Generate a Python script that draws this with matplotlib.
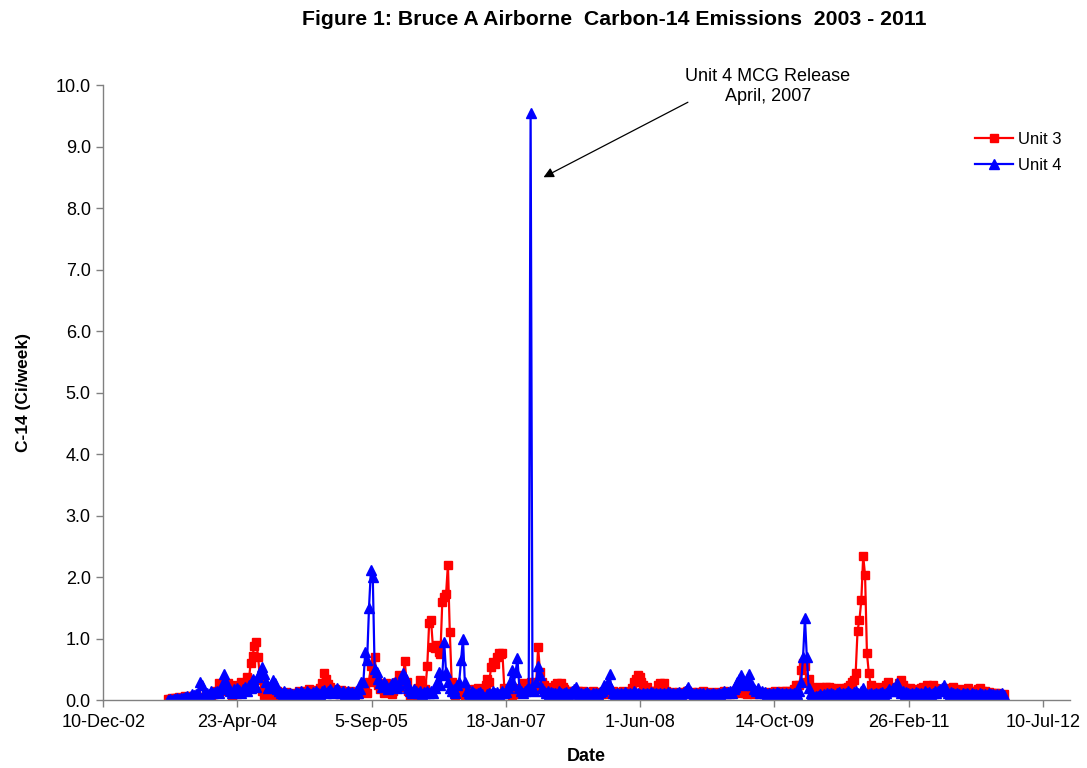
import matplotlib
matplotlib.use("Agg")
import matplotlib.pyplot as plt
import pandas as pd
import numpy as np

plt.rcParams['font.family'] = ['Liberation Sans', 'DejaVu Sans']

# ---------------- data ----------------
start_date = "2003-08-08"   # first weekly sample

unit3 = [
    0.02, 0.01, 0.03, 0.02, 0.04, 0.03, 0.05, 0.02, 0.04, 0.06,
    0.05, 0.03, 0.07, 0.04, 0.06, 0.08, 0.05, 0.02, 0.01, 0.02,
    0.01, 0.03, 0.02, 0.04, 0.10, 0.15, 0.12, 0.27, 0.22, 0.18,
    0.14, 0.20, 0.28, 0.16, 0.05, 0.25, 0.18, 0.10, 0.22, 0.30,
    0.18, 0.25, 0.38, 0.30, 0.60, 0.72, 0.88, 0.95, 0.70, 0.32,
    0.15, 0.08, 0.10, 0.05, 0.12, 0.08, 0.06, 0.10, 0.14, 0.09,
    0.07, 0.11, 0.08, 0.13, 0.10, 0.06, 0.09, 0.12, 0.08, 0.10,
    0.15, 0.12, 0.09, 0.14, 0.11, 0.18, 0.13, 0.10, 0.16, 0.12,
    0.14, 0.20, 0.28, 0.44, 0.35, 0.26, 0.22, 0.15, 0.12, 0.18,
    0.14, 0.10, 0.16, 0.12, 0.09, 0.13, 0.11, 0.15, 0.10, 0.08,
    0.12, 0.09, 0.14, 0.18, 0.25, 0.20, 0.12, 0.30, 0.55, 0.35,
    0.70, 0.30, 0.25, 0.18, 0.22, 0.12, 0.28, 0.15, 0.20, 0.10,
    0.14, 0.25, 0.30, 0.40, 0.22, 0.35, 0.63, 0.30, 0.15, 0.05,
    0.01, 0.03, 0.12, 0.20, 0.32, 0.25, 0.15, 0.18, 0.55, 1.25,
    1.30, 0.87, 0.85, 0.90, 0.78, 0.75, 1.60, 1.68, 1.72, 2.20,
    1.10, 0.30, 0.12, 0.08, 0.15, 0.10, 0.20, 0.12, 0.08, 0.14,
    0.10, 0.16, 0.12, 0.18, 0.14, 0.20, 0.15, 0.12, 0.18, 0.25,
    0.35, 0.30, 0.54, 0.62, 0.58, 0.70, 0.76, 0.75, 0.76, 0.20,
    0.15, 0.10, 0.12, 0.08, 0.10, 0.14, 0.12, 0.18, 0.20, 0.27,
    0.22, 0.18, 0.25, 0.30, 0.20, 0.15, 0.25, 0.86, 0.46, 0.30,
    0.25, 0.20, 0.22, 0.15, 0.18, 0.20, 0.24, 0.27, 0.25, 0.27,
    0.22, 0.18, 0.15, 0.12, 0.14, 0.10, 0.13, 0.11, 0.15, 0.12,
    0.10, 0.14, 0.12, 0.09, 0.13, 0.11, 0.15, 0.12, 0.10, 0.13,
    0.12, 0.10, 0.14, 0.11, 0.13, 0.12, 0.10, 0.14, 0.12, 0.11,
    0.13, 0.12, 0.15, 0.12, 0.10, 0.05, 0.00, 0.20, 0.30, 0.35,
    0.40, 0.38, 0.30, 0.25, 0.20, 0.22, 0.15, 0.12, 0.14, 0.12,
    0.15, 0.25, 0.28, 0.26, 0.28, 0.15, 0.12, 0.10, 0.13, 0.11,
    0.12, 0.10, 0.13, 0.11, 0.12, 0.10, 0.14, 0.12, 0.11, 0.13,
    0.12, 0.10, 0.13, 0.11, 0.12, 0.14, 0.10, 0.12, 0.11, 0.13,
    0.10, 0.12, 0.11, 0.13, 0.12, 0.10, 0.14, 0.11, 0.12, 0.10,
    0.13, 0.12, 0.15, 0.18, 0.12, 0.14, 0.16, 0.12, 0.10, 0.13,
    0.11, 0.12, 0.10, 0.14, 0.12, 0.11, 0.13, 0.10, 0.12, 0.11,
    0.13, 0.12, 0.10, 0.14, 0.12, 0.11, 0.13, 0.15, 0.12, 0.14,
    0.12, 0.15, 0.13, 0.18, 0.25, 0.22, 0.24, 0.49, 0.60, 0.55,
    0.30, 0.35, 0.20, 0.22, 0.18, 0.20, 0.17, 0.22, 0.20, 0.18,
    0.21, 0.18, 0.22, 0.19, 0.20, 0.17, 0.18, 0.16, 0.20, 0.18,
    0.18, 0.20, 0.22, 0.25, 0.30, 0.33, 0.44, 1.13, 1.30, 1.62,
    2.34, 2.03, 0.76, 0.44, 0.25, 0.20, 0.22, 0.18, 0.15, 0.20,
    0.22, 0.18, 0.25, 0.30, 0.22, 0.18, 0.20, 0.15, 0.22, 0.28,
    0.33, 0.25, 0.20, 0.18, 0.16, 0.20, 0.18, 0.15, 0.17, 0.14,
    0.18, 0.20, 0.22, 0.16, 0.25, 0.20, 0.18, 0.25, 0.20, 0.16,
    0.18, 0.15, 0.17, 0.14, 0.16, 0.20, 0.18, 0.15, 0.22, 0.17,
    0.15, 0.18, 0.14, 0.16, 0.13, 0.15, 0.20, 0.14, 0.12, 0.15,
    0.13, 0.18, 0.20, 0.15, 0.12, 0.14, 0.11, 0.13, 0.12, 0.10,
    0.12, 0.09, 0.11, 0.10, 0.08, 0.09,
]

unit4 = [
    0.00, 0.01, 0.00, 0.02, 0.01, 0.03, 0.02, 0.04, 0.03, 0.05,
    0.06, 0.04, 0.07, 0.09, 0.08, 0.10, 0.12, 0.30, 0.25, 0.08,
    0.10, 0.12, 0.09, 0.14, 0.11, 0.13, 0.15, 0.12, 0.18, 0.25,
    0.42, 0.30, 0.20, 0.15, 0.12, 0.18, 0.14, 0.20, 0.16, 0.12,
    0.18, 0.22, 0.15, 0.25, 0.20, 0.35, 0.28, 0.22, 0.38, 0.45,
    0.54, 0.42, 0.30, 0.20, 0.22, 0.25, 0.32, 0.28, 0.18, 0.15,
    0.12, 0.10, 0.14, 0.11, 0.09, 0.12, 0.10, 0.08, 0.13, 0.11,
    0.10, 0.14, 0.12, 0.09, 0.15, 0.12, 0.10, 0.13, 0.11, 0.14,
    0.12, 0.10, 0.14, 0.16, 0.12, 0.15, 0.18, 0.14, 0.12, 0.16,
    0.20, 0.15, 0.12, 0.14, 0.10, 0.12, 0.15, 0.11, 0.13, 0.10,
    0.14, 0.12, 0.18, 0.29, 0.30, 0.78, 0.65, 1.50, 2.11, 2.00,
    0.50, 0.45, 0.35, 0.28, 0.22, 0.30, 0.25, 0.18, 0.22, 0.28,
    0.25, 0.30, 0.20, 0.24, 0.35, 0.44, 0.38, 0.28, 0.20, 0.15,
    0.12, 0.18, 0.15, 0.12, 0.14, 0.10, 0.13, 0.12, 0.15, 0.11,
    0.14, 0.12, 0.20, 0.30, 0.46, 0.25, 0.40, 0.95, 0.45, 0.30,
    0.20, 0.15, 0.18, 0.12, 0.25, 0.30, 0.65, 1.00, 0.30, 0.15,
    0.12, 0.10, 0.14, 0.12, 0.09, 0.11, 0.13, 0.10, 0.05, 0.01,
    0.10, 0.12, 0.09, 0.14, 0.11, 0.13, 0.10, 0.12, 0.15, 0.11,
    0.13, 0.20, 0.30, 0.49, 0.25, 0.45, 0.68, 0.20, 0.15, 0.12,
    0.14, 0.18, 0.20, 9.55, 0.22, 0.15, 0.30, 0.55, 0.40, 0.20,
    0.15, 0.12, 0.14, 0.10, 0.13, 0.11, 0.12, 0.10, 0.14, 0.12,
    0.09, 0.11, 0.13, 0.10, 0.12, 0.14, 0.18, 0.22, 0.12, 0.10,
    0.12, 0.09, 0.11, 0.13, 0.10, 0.08, 0.11, 0.09, 0.12, 0.10,
    0.13, 0.15, 0.25, 0.18, 0.30, 0.42, 0.20, 0.12, 0.10, 0.11,
    0.09, 0.12, 0.10, 0.13, 0.11, 0.09, 0.12, 0.10, 0.14, 0.11,
    0.12, 0.10, 0.08, 0.11, 0.09, 0.12, 0.10, 0.13, 0.11, 0.09,
    0.12, 0.10, 0.11, 0.09, 0.12, 0.10, 0.13, 0.11, 0.09, 0.12,
    0.10, 0.11, 0.13, 0.10, 0.12, 0.15, 0.18, 0.22, 0.15, 0.11,
    0.10, 0.12, 0.09, 0.11, 0.10, 0.12, 0.08, 0.11, 0.09, 0.10,
    0.12, 0.10, 0.09, 0.11, 0.10, 0.12, 0.14, 0.11, 0.13, 0.15,
    0.12, 0.18, 0.22, 0.30, 0.35, 0.40, 0.25, 0.30, 0.35, 0.42,
    0.28, 0.25, 0.18, 0.15, 0.20, 0.12, 0.14, 0.11, 0.13, 0.10,
    0.12, 0.09, 0.11, 0.10, 0.13, 0.11, 0.09, 0.12, 0.10, 0.11,
    0.09, 0.12, 0.10, 0.11, 0.13, 0.10, 0.15, 0.30, 0.70, 1.33,
    0.70, 0.20, 0.12, 0.08, 0.05, 0.07, 0.06, 0.09, 0.07, 0.10,
    0.08, 0.11, 0.09, 0.12, 0.10, 0.08, 0.11, 0.13, 0.10, 0.12,
    0.09, 0.11, 0.14, 0.12, 0.10, 0.13, 0.15, 0.12, 0.10, 0.14,
    0.19, 0.12, 0.10, 0.09, 0.11, 0.08, 0.10, 0.12, 0.09, 0.11,
    0.13, 0.10, 0.12, 0.15, 0.18, 0.14, 0.20, 0.22, 0.27, 0.15,
    0.12, 0.14, 0.10, 0.13, 0.11, 0.09, 0.12, 0.10, 0.13, 0.11,
    0.09, 0.12, 0.10, 0.14, 0.11, 0.13, 0.10, 0.12, 0.15, 0.12,
    0.14, 0.18, 0.20, 0.24, 0.15, 0.12, 0.10, 0.13, 0.11, 0.09,
    0.12, 0.10, 0.08, 0.11, 0.09, 0.12, 0.10, 0.08, 0.11, 0.09,
    0.10, 0.08, 0.11, 0.09, 0.07, 0.10, 0.08, 0.11, 0.09, 0.10,
    0.08, 0.10, 0.07, 0.09, 0.11, 0.08,
]

series_labels = ["Unit 3", "Unit 4"]
tick_start = "2002-12-10"
tick_end = "2012-07-10"
x_min = "2002-12-10"
x_max = "2012-10-18"
title = "Figure 1: Bruce A Airborne  Carbon-14 Emissions  2003 - 2011"
annot_text = "Unit 4 MCG Release\nApril, 2007"

dates3 = pd.date_range(start_date, periods=len(unit3), freq="7D")
dates4 = pd.date_range(start_date, periods=len(unit4), freq="7D")

# ---------------- figure ----------------
fig = plt.figure(figsize=(10.87, 7.68), dpi=100)
ax = fig.add_axes([0.095, 0.0885, 0.889, 0.8008])

ax.plot(dates3, unit3, color="#FF0000", lw=1.6, marker="s", ms=5.8,
        mec="#FF0000", mfc="#FF0000", label=series_labels[0])
ax.plot(dates4, unit4, color="#0000FF", lw=1.6, marker="^", ms=6.5,
        mec="#0000FF", mfc="#0000FF", label=series_labels[1])

ax.set_xlim(pd.Timestamp(x_min), pd.Timestamp(x_max))
ax.set_ylim(0, 10)

ticks = pd.date_range(tick_start, tick_end, freq="500D")
ax.set_xticks(ticks)
ax.set_xticklabels([f"{d.day}-{d:%b-%y}" for d in ticks])
ax.set_yticks(np.arange(0, 10.5, 1.0))
ax.set_yticklabels([f"{v:.1f}" for v in np.arange(0, 10.5, 1.0)])

for s in ["top", "right"]:
    ax.spines[s].set_visible(False)
for s in ["left", "bottom"]:
    ax.spines[s].set_color("#808080")
    ax.spines[s].set_linewidth(1.0)
ax.tick_params(axis="both", direction="out", length=5, width=1,
               color="#808080", labelsize=13, labelcolor="black")
ax.tick_params(axis="x", pad=5)
ax.tick_params(axis="y", pad=4)

ax.set_xlabel("Date", fontsize=13, fontweight="bold", labelpad=12)
ax.set_ylabel("C-14 (Ci/week)", fontsize=12.5, fontweight="bold", labelpad=18)
fig.text(0.565, 0.975, title, ha="center", va="center",
         fontsize=15.3, fontweight="bold")

leg = ax.legend(loc="upper left", bbox_to_anchor=(0.895, 0.935), frameon=False,
                fontsize=12, handlelength=2.3, handletextpad=0.3,
                labelspacing=0.7, borderaxespad=0)

# annotation text
ax.text(pd.Timestamp("2009-09-20"), 9.976, annot_text, ha="center", va="center",
        fontsize=13, linespacing=1.2, clip_on=False)
# arrow
ax.annotate("", xy=(pd.Timestamp("2007-06-07"), 8.5),
            xytext=(pd.Timestamp("2008-11-26"), 9.72),
            annotation_clip=False,
            arrowprops=dict(arrowstyle="-|>", color="black", lw=0.9,
                            mutation_scale=15, shrinkA=0, shrinkB=0))

fig.savefig("out.png", dpi=100)
